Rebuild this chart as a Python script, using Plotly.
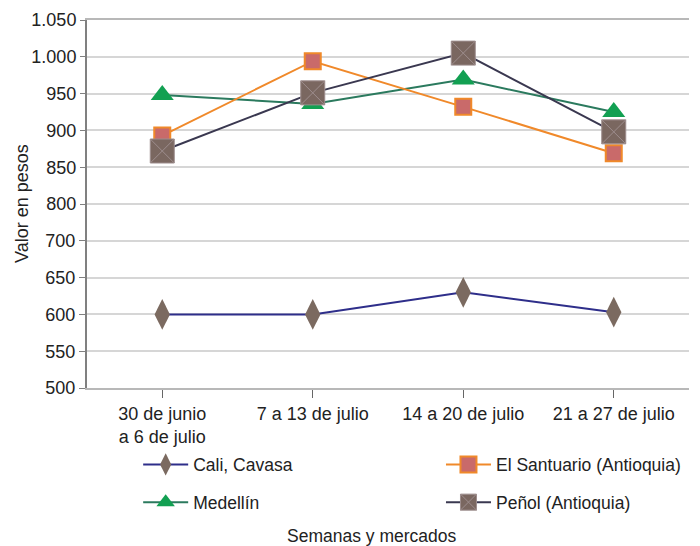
import plotly.graph_objects as go

weeks = ["30 de junio<br>a 6 de julio", "7 a 13 de julio", "14 a 20 de julio", "21 a 27 de julio"]
cali = [600, 600, 630, 603]
medellin = [948, 936, 969, 925]
santuario = [893, 994, 932, 869]
penol = [872, 951, 1005, 898]

y_low_ticks = [500, 550, 600, 650, 700]
y_low_text = ["500", "550", "600", "650", "700"]
y_high_ticks = [800, 850, 900, 950, 1000, 1050]
y_high_text = ["800", "850", "900", "950", "1.000", "1.050"]

FONT = "Liberation Sans, Arial, sans-serif"

fig = go.Figure()
fig.add_trace(go.Scatter(
    x=weeks, y=cali, name="Cali, Cavasa", mode="lines+markers", yaxis="y",
    line=dict(color="#2e2e8a", width=2),
    marker=dict(symbol="diamond-tall", size=22, color="#7b6a60", line=dict(width=0)),
    legend="legend", legendgroup="a"))
fig.add_trace(go.Scatter(
    x=weeks, y=medellin, name="Medellín", mode="lines+markers", yaxis="y2",
    line=dict(color="#2b7a5e", width=2),
    marker=dict(symbol="triangle-up", size=20, color="#12a052", line=dict(width=0)),
    legend="legend", legendgroup="b"))
fig.add_trace(go.Scatter(
    x=weeks, y=santuario, name="El Santuario (Antioquia)", mode="lines+markers", yaxis="y2",
    line=dict(color="#f0892a", width=2),
    marker=dict(symbol="square", size=16, color="#c96a6a", line=dict(color="#f0892a", width=2)),
    legend="legend2", legendgroup="c"))
fig.add_trace(go.Scatter(
    x=weeks, y=penol, name="Peñol (Antioquia)", mode="lines+markers", yaxis="y2",
    line=dict(color="#3a3850", width=2),
    marker=dict(symbol="square-x", size=24, color="#7a6760", line=dict(color="#9d8d8d", width=1)),
    legend="legend2", legendgroup="d"))

fig.update_layout(
    width=692, height=538,
    margin=dict(l=79, r=11, t=12, b=158, autoexpand=False),
    paper_bgcolor="white", plot_bgcolor="white",
    font=dict(family=FONT, size=18, color="#222222"),
    showlegend=True,
    xaxis=dict(
        type="category", range=[-0.5, 3.5], showgrid=False, automargin=False,
        showline=True, linecolor="#b8b8b8", linewidth=2, mirror=True,
        ticks="outside", ticklen=8, tickcolor="#666666", tickwidth=1,
        tickfont=dict(size=18, color="#222222"), zeroline=False,
    ),
    yaxis=dict(
        range=[500, 1000], tickvals=y_low_ticks, ticktext=y_low_text, automargin=False,
        showgrid=True, gridcolor="#d6d6d6", gridwidth=2,
        showline=True, linecolor="#808080", linewidth=2,
        ticks="outside", ticklen=6, tickcolor="#808080",
        tickfont=dict(size=18, color="#222222"), zeroline=False,
    ),
    yaxis2=dict(
        range=[550, 1050], tickvals=y_high_ticks, ticktext=y_high_text, automargin=False,
        overlaying="y", side="left", anchor="x",
        showgrid=True, gridcolor="#d6d6d6", gridwidth=2,
        showline=False,
        ticks="outside", ticklen=6, tickcolor="#808080",
        tickfont=dict(size=18, color="#222222"), zeroline=False,
    ),
    legend=dict(
        x=0.085, y=-0.159, xanchor="left", yanchor="top",
        orientation="v", tracegroupgap=12, itemwidth=45,
        font=dict(size=17.5, color="#222222"), bgcolor="rgba(0,0,0,0)",
    ),
    legend2=dict(
        x=0.588, y=-0.159, xanchor="left", yanchor="top",
        orientation="v", tracegroupgap=12, itemwidth=45,
        font=dict(size=17.5, color="#222222"), bgcolor="rgba(0,0,0,0)",
    ),
    annotations=[
        dict(text="Semanas y mercados", xref="paper", yref="paper",
             x=(371 - 87) / 602, y=(388 - 536) / 368, xanchor="center", yanchor="middle",
             showarrow=False, font=dict(size=17.5, color="#222222")),
        dict(text="Valor en pesos", xref="paper", yref="paper",
             x=(22 - 87) / 602, y=0.5, xanchor="center", yanchor="middle", textangle=-90,
             showarrow=False, font=dict(size=18, color="#222222")),
    ],
)

fig.write_html("out.html")
